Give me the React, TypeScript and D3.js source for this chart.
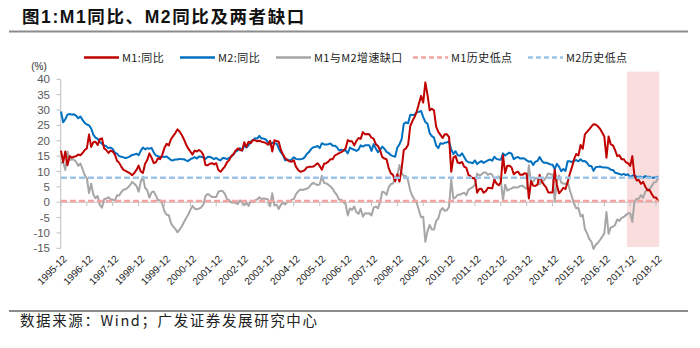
import React from "react";
import * as d3 from "d3";

// Monthly YoY growth (%), from 1995-12 to 2019-01
const START_YEAR = 1995;
const START_MONTH = 12;

const M1: number[] = [
  16.8,
  13.0, 16.5, 12.0, 15.0, 14.5, 14.8, 15.0, 15.5, 15.3, 16.0, 17.0, 17.5,
  22.0, 18.0, 19.5, 19.7, 18.6, 20.5, 20.8, 17.5, 17.0, 16.0, 16.8, 16.5,
  15.5, 13.5, 12.8, 11.5, 10.5, 10.2, 9.8, 9.4, 8.8, 9.5, 10.5, 11.9,
  10.0, 9.5, 12.5, 13.7, 15.9, 14.5, 12.7, 13.0, 14.3, 14.0, 15.5, 17.7,
  19.0, 18.5, 20.5, 21.5, 22.5, 23.7, 23.0, 21.9, 20.5, 18.8, 17.5, 16.5,
  15.5, 16.8, 16.5, 17.0, 16.5, 15.4, 12.1, 12.0, 12.5, 12.7, 12.3, 12.7,
  10.5, 9.9, 10.8, 11.6, 13.0, 13.7, 15.0, 15.6, 16.8, 17.5, 17.0, 16.8,
  19.5, 18.0, 19.7, 19.2, 20.2, 20.2, 19.8, 20.0, 19.7, 19.5, 19.3, 18.7,
  20.0, 16.5, 20.2, 19.9, 19.7, 17.0, 15.5, 14.3, 13.7, 13.3, 13.2, 13.6,
  11.5, 10.5, 9.9, 10.1, 10.4, 11.3, 11.5, 11.5, 11.6, 12.1, 12.7, 11.8,
  10.6, 12.5, 12.7, 13.2, 14.0, 14.0, 15.2, 15.6, 16.0, 16.3, 16.8, 17.5,
  20.2, 19.8, 19.8, 18.5, 19.9, 20.9, 20.6, 22.8, 22.1, 22.2, 22.1, 21.0,
  20.7, 18.9, 18.3, 16.9, 14.7, 14.2, 14.0, 11.1, 9.4, 8.9, 6.8, 9.1,
  6.7, 10.9, 17.0, 17.5, 18.7, 24.8, 26.4, 27.7, 29.5, 32.0, 34.6, 32.4,
  39.0, 34.9, 29.9, 30.4, 29.9, 24.6, 22.9, 21.9, 20.9, 22.1, 22.1, 21.2,
  9.9, 14.5, 15.0, 12.9, 12.7, 13.1, 11.6, 11.2, 8.9, 8.4, 7.8, 7.9,
  3.1, 4.3, 4.4, 3.1, 3.5, 4.7, 4.6, 4.5, 7.3, 6.1, 5.5, 6.5,
  15.3, 9.5, 11.9, 11.9, 11.3, 9.1, 9.7, 9.9, 8.9, 8.9, 9.4, 9.3,
  1.2, 6.9, 5.4, 5.3, 5.7, 8.9, 6.7, 5.7, 4.8, 3.2, 3.2, 3.2,
  10.6, 5.6, 2.9, 3.7, 4.7, 4.3, 6.6, 9.3, 11.4, 14.0, 15.7, 15.2,
  18.6, 17.4, 22.1, 22.9, 23.7, 24.6, 25.4, 25.3, 24.7, 23.9, 22.7, 21.4,
  14.5, 21.4, 18.8, 18.5, 17.0, 15.0, 15.3, 14.0, 14.0, 13.0, 12.7, 11.8,
  15.0, 8.5, 7.1, 7.2, 6.0, 6.6, 5.1, 3.9, 4.0, 2.7, 1.5, 1.5,
  0.4,
];

const M2: number[] = [
  29.5,
  26.0, 27.0, 28.5, 28.7, 28.5, 28.6, 28.2, 27.3, 27.9, 26.8, 25.8, 25.3,
  25.0, 24.0, 22.0, 21.0, 20.6, 19.6, 19.0, 18.5, 18.2, 17.6, 17.8, 17.3,
  16.1, 15.8, 15.0, 14.8, 14.6, 14.4, 14.6, 14.9, 15.4, 15.5, 15.8, 15.3,
  16.7, 17.8, 17.2, 17.6, 17.4, 17.7, 16.2, 15.2, 15.0, 14.6, 14.9, 14.7,
  14.9, 14.3, 13.7, 13.6, 13.9, 13.9, 14.1, 14.0, 14.0, 13.6, 13.4, 14.0,
  14.3, 14.7, 14.2, 14.9, 14.8, 14.6, 14.1, 14.7, 14.8, 14.4, 14.0, 14.4,
  13.9, 13.6, 14.4, 14.3, 14.0, 14.4, 14.9, 15.6, 16.5, 16.9, 17.6, 16.8,
  18.5, 17.8, 18.5, 19.7, 20.2, 20.8, 20.7, 21.6, 20.7, 20.7, 20.4, 19.6,
  18.7, 19.4, 19.1, 19.1, 17.5, 16.2, 15.3, 13.6, 13.9, 13.5, 14.0, 14.6,
  14.1, 14.0, 14.0, 14.1, 14.6, 15.7, 16.3, 17.3, 17.9, 18.0, 18.3, 17.6,
  19.2, 18.8, 18.8, 18.9, 19.1, 18.4, 18.4, 17.9, 16.8, 17.1, 16.8, 16.9,
  15.9, 17.8, 17.3, 17.1, 16.7, 17.1, 18.5, 18.1, 18.5, 18.5, 18.5, 16.7,
  18.9, 17.5, 16.3, 16.9, 18.1, 17.4, 16.4, 16.0, 15.3, 15.0, 14.8, 17.8,
  18.8, 20.5, 25.5, 26.0, 25.7, 28.5, 28.4, 28.5, 29.3, 29.4, 29.7, 27.7,
  26.1, 25.5, 22.5, 21.5, 21.0, 18.5, 17.6, 19.2, 19.0, 19.3, 19.5, 19.7,
  17.2, 15.7, 16.6, 15.3, 15.1, 15.9, 14.7, 13.5, 13.0, 12.9, 12.7, 13.6,
  12.4, 13.0, 13.4, 12.8, 13.2, 13.6, 13.9, 13.5, 14.8, 14.1, 13.9, 13.8,
  15.9, 15.2, 15.7, 16.1, 15.8, 14.0, 14.5, 14.7, 14.2, 14.3, 14.2, 13.6,
  13.2, 13.3, 12.1, 13.2, 13.4, 14.7, 13.5, 12.8, 12.9, 12.6, 12.3, 12.2,
  10.8, 12.5, 11.6, 10.1, 10.8, 10.2, 13.3, 13.3, 13.1, 13.5, 13.7, 13.3,
  14.0, 13.3, 13.4, 12.8, 11.8, 11.8, 10.2, 11.4, 11.5, 11.6, 11.4, 11.3,
  11.3, 11.1, 10.6, 10.5, 9.6, 9.4, 9.2, 8.9, 9.2, 8.8, 9.1, 8.2,
  8.6, 8.8, 8.2, 8.3, 8.3, 8.0, 8.5, 8.2, 8.3, 8.0, 8.0, 8.1,
  8.4,
];

// growth gap as plotted (M2 minus M1)
const GAP: number[] = M2.map((v, i) => Math.round((v - M1[i]) * 10) / 10);

const M1_LOW = 0.4;
const M2_LOW = 8.0;

const MONTHS: string[] = M1.map((_, i) => {
  const t = START_YEAR * 12 + (START_MONTH - 1) + i;
  return `${Math.floor(t / 12)}-${String((t % 12) + 1).padStart(2, "0")}`;
});

const X_TICKS: string[] = [
  "1995-12", "1996-12", "1997-12", "1998-12", "1999-12", "2000-12",
  "2001-12", "2002-12", "2003-12", "2004-12", "2005-12", "2006-12",
  "2007-12", "2008-12", "2009-12", "2010-12", "2011-12", "2012-12",
  "2013-12", "2014-12", "2015-12", "2016-12", "2017-12", "2018-12",
];
const Y_TICKS: number[] = [40, 35, 30, 25, 20, 15, 10, 5, 0, -5, -10, -15];

const SHADE_FROM = "2017-11";
const SHADE_TO = "2019-01";
const SHADE_TOP = 42.5;
const SHADE_BOTTOM = -14.6;

const TITLE = "图1:M1同比、M2同比及两者缺口";
const SOURCE = "数据来源：Wind；广发证券发展研究中心";
const UNIT = "(%)";

const LEGEND = [
  { label: "M1:同比", color: "#c00000", dash: "", x: 84 },
  { label: "M2:同比", color: "#0070c0", dash: "", x: 180 },
  { label: "M1与M2增速缺口", color: "#a6a6a6", dash: "", x: 276 },
  { label: "M1历史低点", color: "#f4a3a3", dash: "5,3", x: 413 },
  { label: "M2历史低点", color: "#9dc3e6", dash: "5,3", x: 528 },
];

const W = 700;
const H = 348;
const LEFT = 61;
const RIGHT = 658.2;
const TOP = 79.3;
const BOTTOM = 248.3;

export default function App() {
  const n = M1.length;
  const x = d3.scaleLinear().domain([0, n - 1]).range([LEFT, RIGHT]);
  const y = d3.scaleLinear().domain([-15, 40]).range([BOTTOM, TOP]);
  const step = x(1) - x(0);

  const line = d3
    .line<number>()
    .x((_, i) => x(i))
    .y((d) => y(d));

  const i0 = MONTHS.indexOf(SHADE_FROM);
  const i1 = MONTHS.indexOf(SHADE_TO);

  const font = "'Liberation Sans', Arial, 'Noto Sans CJK SC', sans-serif";
  const cjk = "'Noto Sans CJK SC', 'Liberation Sans', sans-serif";

  return (
    <svg
      width={W}
      height={H}
      viewBox={`0 0 ${W} ${H}`}
      style={{ position: "absolute", left: 0, top: 0, background: "#fff" }}
    >
      {/* title */}
      <text x={22} y={23} fontFamily={font} fontWeight="bold" fontSize={17.5} letterSpacing={1.6} fill="#111">
        {TITLE}
      </text>
      <line x1={9} x2={688} y1={31.5} y2={31.5} stroke="#8c8c8c" strokeWidth={2} />

      {/* legend */}
      {LEGEND.map((l) => (
        <g key={l.label}>
          <line
            x1={l.x}
            x2={l.x + 35}
            y1={57.5}
            y2={57.5}
            stroke={l.color}
            strokeWidth={2.5}
            strokeDasharray={l.dash || undefined}
          />
          <text x={l.x + 38} y={61.5} fontFamily={cjk} fontSize={11} letterSpacing={0.4} fill="#222">
            {l.label}
          </text>
        </g>
      ))}

      {/* shaded period */}
      <rect
        x={x(i0) - step / 2}
        width={x(i1) - x(i0) + step}
        y={y(SHADE_TOP)}
        height={y(SHADE_BOTTOM) - y(SHADE_TOP)}
        fill="#fadddd"
      />

      {/* unit */}
      <text x={39} y={69.5} textAnchor="middle" fontFamily={font} fontSize={10} fill="#333">
        {UNIT}
      </text>

      {/* y axis */}
      <line x1={LEFT - 0.3} x2={LEFT - 0.3} y1={y(40)} y2={y(-15)} stroke="#bfbfbf" strokeWidth={1} />
      {Y_TICKS.map((t) => (
        <g key={t}>
          <line x1={LEFT - 4.5} x2={LEFT - 0.3} y1={y(t)} y2={y(t)} stroke="#bfbfbf" strokeWidth={1} />
          <text x={50} y={y(t)} dy="0.35em" textAnchor="end" fontFamily={font} fontSize={11.5} fill="#595959">
            {t}
          </text>
        </g>
      ))}

      {/* x axis at zero */}
      <line x1={LEFT} x2={RIGHT + step / 2} y1={y(0)} y2={y(0)} stroke="#bfbfbf" strokeWidth={1} />
      {X_TICKS.map((t) => {
        const xi = x(MONTHS.indexOf(t));
        return (
          <g key={t}>
            <line x1={xi} x2={xi} y1={y(0)} y2={y(0) + 4} stroke="#bfbfbf" strokeWidth={1} />
            <text
              transform={`translate(${xi + 4},${257}) rotate(-45)`}
              textAnchor="end"
              dy="0.35em"
              fontFamily={font}
              fontSize={10}
              fill="#222"
            >
              {t}
            </text>
          </g>
        );
      })}

      {/* series */}
      <path d={line(GAP) || ""} fill="none" stroke="#a6a6a6" strokeWidth={2} strokeLinejoin="round" />
      <path d={line(M2) || ""} fill="none" stroke="#0070c0" strokeWidth={2} strokeLinejoin="round" />
      <path d={line(M1) || ""} fill="none" stroke="#c00000" strokeWidth={2} strokeLinejoin="round" />

      {/* historical lows */}
      <line
        x1={x(0)}
        x2={x(n - 1)}
        y1={y(M1_LOW)}
        y2={y(M1_LOW)}
        stroke="#f4a3a3"
        strokeWidth={2.5}
        strokeDasharray="6,3"
      />
      <line
        x1={x(0)}
        x2={x(n - 1)}
        y1={y(M2_LOW)}
        y2={y(M2_LOW)}
        stroke="#9dc3e6"
        strokeWidth={2.5}
        strokeDasharray="6,3"
      />

      {/* footer */}
      <line x1={9} x2={688} y1={311} y2={311} stroke="#8c8c8c" strokeWidth={2} />
      <text x={20} y={326} fontFamily={cjk} fontSize={14.5} letterSpacing={1.6} fill="#222">
        {SOURCE}
      </text>
    </svg>
  );
}
